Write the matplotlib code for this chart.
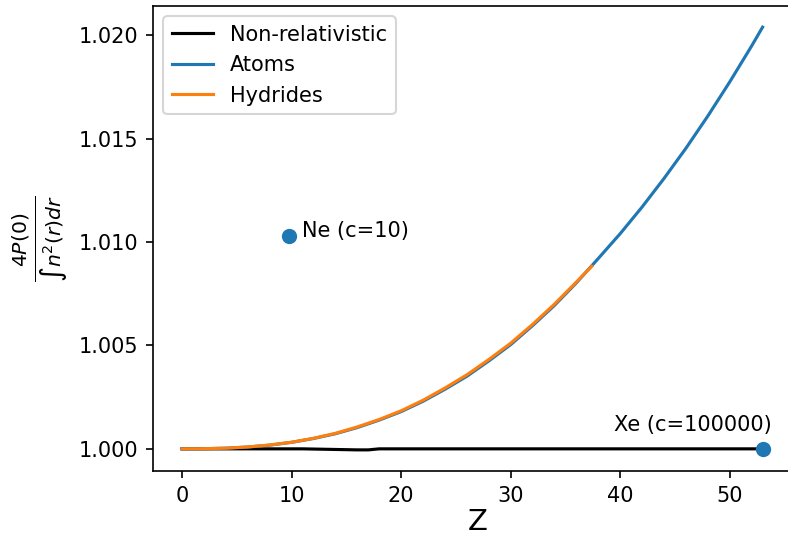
import matplotlib
matplotlib.use("Agg")
import matplotlib.pyplot as plt
from matplotlib.ticker import MultipleLocator, FormatStrFormatter

# Non-relativistic reference
z_nonrel = list(range(0, 54))
nonrel = [1.0, 1.0, 1.0, 1.0, 1.0, 1.0, 1.0, 1.0, 1.0, 1.0,
          1.0, 1.0, 0.99999, 0.99998, 0.99997, 0.99996, 0.99995, 0.99995, 1.0, 1.0,
          1.0, 1.0, 1.0, 1.0, 1.0, 1.0, 1.0, 1.0, 1.0, 1.0,
          1.0, 1.0, 1.0, 1.0, 1.0, 1.0, 1.0, 1.0, 1.0, 1.0,
          1.0, 1.0, 1.0, 1.0, 1.0, 1.0, 1.0, 1.0, 1.0, 1.0,
          1.0, 1.0, 1.0, 1.0]

# Atoms
z_atoms = [0, 2, 4, 6, 8, 10, 12, 14, 16, 18, 20, 22, 24, 26, 28, 30,
           32, 34, 36, 38, 40, 42, 44, 46, 48, 50, 52, 53]
atoms = [1.0, 1.000006, 1.000032, 1.000088, 1.00018, 1.000315, 1.0005, 1.00073,
         1.00103, 1.00139, 1.0018, 1.0023, 1.00288, 1.00351, 1.00425, 1.00504,
         1.00596, 1.00694, 1.00803, 1.00921, 1.01041, 1.0117, 1.01308, 1.01454,
         1.0161, 1.01775, 1.01949, 1.0204]

# Hydrides
z_hyd = [0, 2, 4, 6, 8, 10, 12, 14, 16, 18, 20, 22, 24, 26, 28, 30,
         32, 34, 36, 37.4]
hydrides = [1.0, 1.000006, 1.000033, 1.00009, 1.000185, 1.00032, 1.00051, 1.00075,
            1.00106, 1.00142, 1.00184, 1.00235, 1.00294, 1.00358, 1.00432, 1.00511,
            1.00602, 1.007, 1.00807, 1.00883]

# single points
ne_z, ne_val = 9.8, 1.01031
xe_z, xe_val = 53, 1.0

fig = plt.figure(figsize=(788/150, 535/150), dpi=150)
ax = fig.add_axes([0.1942, 0.1196, 0.825, 0.8692])

ax.plot(z_nonrel, nonrel, color='black', label='Non-relativistic')
ax.plot(z_atoms, atoms, color='tab:blue', label='Atoms')
ax.plot(z_hyd, hydrides, color='tab:orange', label='Hydrides')

ax.scatter([ne_z], [ne_val], color='tab:blue', s=40, zorder=3)
ax.scatter([xe_z], [xe_val], color='tab:blue', s=40, zorder=3)
ax.annotate('Ne (c=10)', (ne_z, ne_val), xytext=(6, 2.5),
            textcoords='offset points', ha='left', va='center')
ax.annotate('Xe (c=100000)', (xe_z, xe_val), xytext=(4.5, 11.5),
            textcoords='offset points', ha='right', va='center')

ax.set_xlim(-2.65, 56.7)
ax.yaxis.set_major_locator(MultipleLocator(0.005))
ax.yaxis.set_major_formatter(FormatStrFormatter('%.3f'))

ax.set_xlabel('Z', fontsize=14, labelpad=1)
ax.set_ylabel(r'$\frac{4P(0)}{\int n^2(r)dr}$', fontsize=14)
ax.legend(loc='upper left')

fig.savefig('out.png', dpi=150)
